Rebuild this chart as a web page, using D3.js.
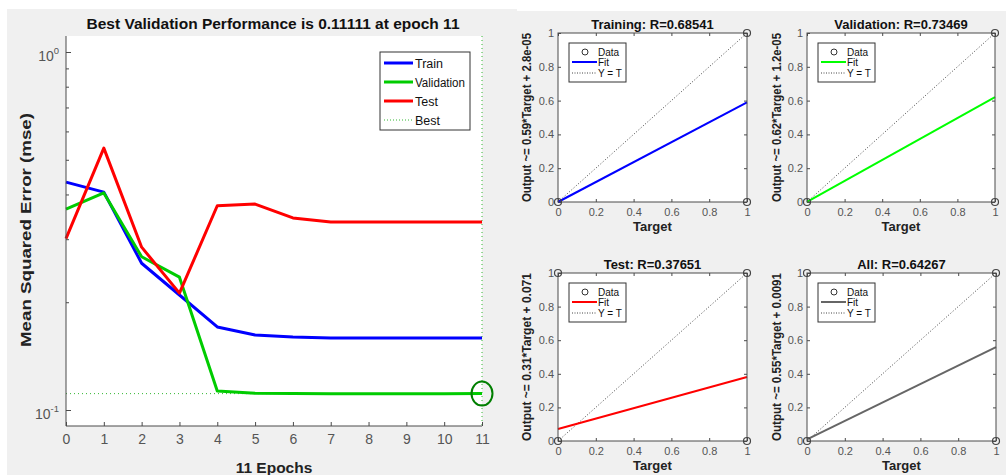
<!DOCTYPE html>
<html><head><meta charset="utf-8">
<script src="https://cdn.jsdelivr.net/npm/d3@7"></script>
<style>
body{margin:0;background:#fff;}
svg{display:block;font-family:"Liberation Sans",Arial,Helvetica,sans-serif;}
</style>
</head><body>
<svg id="c" width="1006" height="475"></svg>
<script>
// ---------- Performance plot data ----------
const epochs = [0,1,2,3,4,5,6,7,8,9,10,11];
const trainPerf = [0.433,0.406,0.257,0.2095,0.1706,0.162,0.160,0.159,0.159,0.159,0.159,0.159];
const valPerf   = [0.364,0.404,0.268,0.235,0.113,0.1114,0.1112,0.1111,0.1111,0.1111,0.1111,0.11111];
const testPerf  = [0.301,0.539,0.285,0.212,0.372,0.376,0.344,0.335,0.335,0.335,0.335,0.335];
const bestEpoch = 11;
const bestPerf = 0.11111;
const perfNames = ["Train","Validation","Test","Best"];
const perfTitle = "Best Validation Performance is 0.11111 at epoch 11";
const perfXLabel = "11 Epochs";
const perfYLabel = "Mean Squared Error  (mse)";
const yMajorTicks = [0.1, 1];
const yMajorExp = ["-1","0"];
const yMinorTicks = [0.2,0.3,0.4,0.5,0.6,0.7,0.8,0.9];

// ---------- Regression plots data ----------
const regTitles = ["Training: R=0.68541","Validation: R=0.73469","Test: R=0.37651","All: R=0.64267"];
const regSlopes = [0.59, 0.62, 0.31, 0.55];
const regIntercepts = [2.8e-5, 1.2e-5, 0.071, 0.0091];
const regYLabels = ["Output ~= 0.59*Target + 2.8e-05","Output ~= 0.62*Target + 1.2e-05",
                    "Output ~= 0.31*Target + 0.071","Output ~= 0.55*Target + 0.0091"];
const regTargets = [[0,1,1],[0,1,1],[0,0,1,1],[0,0,1,1]];
const regOutputs = [[0,0,1],[0,0,1],[0,1,0,1],[0,1,0,1]];
const regTicks = [0,0.2,0.4,0.6,0.8,1];
const regLegend = ["Data","Fit","Y = T"];

// ---------- styles / layout ----------
const perfColors = {Train:"#0000ff", Validation:"#00cc00", Test:"#ff0000", Best:"#33b833"};
const regColors = ["#0000ff","#00ff00","#ff0000","#666666"];
const axisCol = "#4a4a4a", tickTextCol = "#555555";

const svg = d3.select("#c");
svg.append("rect").attr("x",7).attr("y",9).attr("width",510).attr("height",466).attr("fill","#f0f0f0");
svg.append("rect").attr("x",517).attr("y",11).attr("width",489).attr("height",464).attr("fill","#f0f0f0");

// ===== Left performance chart =====
const L = {x0:66, x1:482, y0:36, y1:426};
const x = d3.scaleLinear().domain([0,11]).range([L.x0, L.x1]);
const y = d3.scaleLog().domain([0.1,1]).range([410,52]);
const gL = svg.append("g");
gL.append("rect").attr("x",L.x0).attr("y",L.y0).attr("width",L.x1-L.x0).attr("height",L.y1-L.y0).attr("fill","#fff");

// best lines
gL.append("line").attr("x1",x(0)).attr("x2",x(bestEpoch)).attr("y1",y(bestPerf)).attr("y2",y(bestPerf))
  .attr("stroke",perfColors.Best).attr("stroke-width",1).attr("stroke-dasharray","1,3");
gL.append("line").attr("x1",x(bestEpoch)).attr("x2",x(bestEpoch)).attr("y1",L.y0).attr("y2",L.y1)
  .attr("stroke",perfColors.Best).attr("stroke-width",1).attr("stroke-dasharray","1,3");

const line = d3.line().x((d,i)=>x(epochs[i])).y(d=>y(d));
[["Train",trainPerf],["Validation",valPerf],["Test",testPerf]].forEach(([n,arr])=>{
  gL.append("path").attr("d",line(arr)).attr("fill","none").attr("stroke",perfColors[n])
    .attr("stroke-width",3).attr("stroke-linejoin","round");
});
gL.append("ellipse").attr("cx",x(bestEpoch)).attr("cy",y(bestPerf)).attr("rx",10.5).attr("ry",12)
  .attr("fill","none").attr("stroke","#007f00").attr("stroke-width",2);

// axes
gL.append("line").attr("x1",L.x0).attr("x2",L.x0).attr("y1",L.y0).attr("y2",L.y1).attr("stroke",axisCol);
gL.append("line").attr("x1",L.x0).attr("x2",L.x1).attr("y1",L.y1).attr("y2",L.y1).attr("stroke",axisCol);
const xAx = gL.append("g").attr("transform",`translate(0,${L.y1})`)
  .call(d3.axisBottom(x).tickValues(epochs).tickSize(-4).tickFormat(d3.format("d")));
xAx.select(".domain").remove();
xAx.selectAll(".tick line").attr("stroke",axisCol);
xAx.selectAll(".tick text").attr("y",18).attr("dy",0).attr("font-size",14).attr("fill",tickTextCol)
  .attr("font-family","Liberation Sans, Arial, sans-serif");
const yMin = gL.append("g").attr("transform",`translate(${L.x0},0)`)
  .call(d3.axisLeft(y).tickValues(yMinorTicks).tickSize(-3).tickFormat(""));
yMin.select(".domain").remove();
yMin.selectAll(".tick line").attr("stroke",axisCol);
const yMaj = gL.append("g").attr("transform",`translate(${L.x0},0)`)
  .call(d3.axisLeft(y).tickValues(yMajorTicks).tickSize(-5).tickFormat(""));
yMaj.select(".domain").remove();
yMaj.selectAll(".tick line").attr("stroke",axisCol);
yMajorTicks.forEach((v,i)=>{
  const t = gL.append("text").attr("x",59).attr("y",y(v)+9).attr("text-anchor","end")
    .attr("fill",tickTextCol).attr("font-size",14);
  t.append("tspan").text("10");
  t.append("tspan").attr("dy",-7).attr("font-size",9.5).text(yMajorExp[i]);
});

// title & labels
gL.append("text").attr("x",273).attr("y",29).attr("text-anchor","middle").attr("font-weight","bold")
  .attr("font-size",15.5).attr("fill","#111").attr("textLength",373).attr("lengthAdjust","spacingAndGlyphs").text(perfTitle);
gL.append("text").attr("x",274).attr("y",473).attr("text-anchor","middle").attr("font-weight","bold")
  .attr("font-size",15.5).attr("fill","#222").text(perfXLabel);
gL.append("text").attr("transform","translate(31,230) rotate(-90)").attr("text-anchor","middle")
  .attr("font-weight","bold").attr("font-size",15.5).attr("fill","#222")
  .attr("textLength",234).attr("lengthAdjust","spacingAndGlyphs").text(perfYLabel);

// legend
const lg = gL.append("g");
lg.append("rect").attr("x",380).attr("y",52).attr("width",90).attr("height",78).attr("fill","#fff").attr("stroke","#333");
perfNames.forEach((n,i)=>{
  const yy = 63 + i*19;
  lg.append("line").attr("x1",384).attr("x2",413).attr("y1",yy).attr("y2",yy).attr("stroke",perfColors[n])
    .attr("stroke-width",n==="Best"?1:3).attr("stroke-dasharray",n==="Best"?"1,2":null);
  lg.append("text").attr("x",415).attr("y",yy+4.5).attr("font-size",12.5).attr("fill","#111")
    .attr("textLength",n==="Validation"?50:null).attr("lengthAdjust","spacingAndGlyphs").text(n);
});

// ===== Regression panels =====
const panels = [
  {x0:558,x1:747,y0:33,y1:202,ylx:531},
  {x0:807,x1:995,y0:33,y1:202,ylx:781},
  {x0:558,x1:747,y0:273,y1:441,ylx:531},
  {x0:807,x1:996,y0:273,y1:441,ylx:781}
];
panels.forEach((p,i)=>{
  const g = svg.append("g");
  const sx = d3.scaleLinear().domain([0,1]).range([p.x0,p.x1]);
  const sy = d3.scaleLinear().domain([0,1]).range([p.y1,p.y0]);
  g.append("rect").attr("x",p.x0).attr("y",p.y0).attr("width",p.x1-p.x0).attr("height",p.y1-p.y0).attr("fill","#fff");
  // ticks
  const ax = g.append("g").attr("transform",`translate(0,${p.y1})`)
    .call(d3.axisBottom(sx).tickValues(regTicks).tickSize(-3).tickFormat(d=>d3.format("")(d)));
  ax.select(".domain").remove();
  ax.selectAll(".tick line").attr("stroke",axisCol);
  ax.selectAll(".tick text").attr("y",14).attr("dy",0).attr("font-size",11).attr("fill",tickTextCol)
    .attr("font-family","Liberation Sans, Arial, sans-serif");
  const axT = g.append("g").attr("transform",`translate(0,${p.y0})`)
    .call(d3.axisTop(sx).tickValues(regTicks).tickSize(-3).tickFormat(""));
  axT.select(".domain").remove(); axT.selectAll(".tick line").attr("stroke",axisCol);
  const ay = g.append("g").attr("transform",`translate(${p.x0},0)`)
    .call(d3.axisLeft(sy).tickValues(regTicks).tickSize(-3).tickFormat(d=>d3.format("")(d)));
  ay.select(".domain").remove();
  ay.selectAll(".tick line").attr("stroke",axisCol);
  ay.selectAll(".tick text").attr("x",-4).attr("font-size",11).attr("fill",tickTextCol)
    .attr("font-family","Liberation Sans, Arial, sans-serif");
  const ayR = g.append("g").attr("transform",`translate(${p.x1},0)`)
    .call(d3.axisRight(sy).tickValues(regTicks).tickSize(-3).tickFormat(""));
  ayR.select(".domain").remove(); ayR.selectAll(".tick line").attr("stroke",axisCol);

  // Y = T
  g.append("line").attr("x1",sx(0)).attr("y1",sy(0)).attr("x2",sx(1)).attr("y2",sy(1))
    .attr("stroke","#444").attr("stroke-width",1).attr("stroke-dasharray","1,2");
  // fit
  g.append("line").attr("x1",sx(0)).attr("y1",sy(regIntercepts[i])).attr("x2",sx(1)).attr("y2",sy(regSlopes[i]+regIntercepts[i]))
    .attr("stroke",regColors[i]).attr("stroke-width",2);
  // box
  g.append("rect").attr("x",p.x0).attr("y",p.y0).attr("width",p.x1-p.x0).attr("height",p.y1-p.y0)
    .attr("fill","none").attr("stroke",axisCol);
  // data
  regTargets[i].forEach((t,k)=>{
    g.append("circle").attr("cx",sx(t)).attr("cy",sy(regOutputs[i][k])).attr("r",3.5)
      .attr("fill","none").attr("stroke","#444").attr("stroke-width",1.2);
  });
  // title, labels
  g.append("text").attr("x",(p.x0+p.x1)/2).attr("y",p.y0-4).attr("text-anchor","middle")
    .attr("font-weight","bold").attr("font-size",13).attr("fill","#111").text(regTitles[i]);
  g.append("text").attr("x",(p.x0+p.x1)/2).attr("y",p.y1+29).attr("text-anchor","middle")
    .attr("font-weight","bold").attr("font-size",13).attr("fill","#222").text("Target");
  g.append("text").attr("transform",`translate(${p.ylx},${(p.y0+p.y1)/2}) rotate(-90)`).attr("text-anchor","middle")
    .attr("font-weight","bold").attr("font-size",12.5).attr("fill","#222")
    .attr("textLength",p.y1-p.y0).attr("lengthAdjust","spacingAndGlyphs").text(regYLabels[i]);
  // legend
  const lx = p.x0+11, ly = p.y0+10;
  g.append("rect").attr("x",lx).attr("y",ly).attr("width",57).attr("height",39).attr("fill","#fff").attr("stroke","#333");
  g.append("circle").attr("cx",lx+16).attr("cy",ly+9).attr("r",3).attr("fill","none").attr("stroke","#333");
  g.append("line").attr("x1",lx+3).attr("x2",lx+28).attr("y1",ly+19).attr("y2",ly+19).attr("stroke",regColors[i]).attr("stroke-width",2);
  g.append("line").attr("x1",lx+3).attr("x2",lx+28).attr("y1",ly+30).attr("y2",ly+30).attr("stroke","#444").attr("stroke-dasharray","1,1.5");
  regLegend.forEach((n,k)=>{
    g.append("text").attr("x",lx+29).attr("y",ly+[9,19,30][k]+3.5).attr("font-size",10).attr("fill","#111").text(n);
  });
});
</script>
</body></html>
